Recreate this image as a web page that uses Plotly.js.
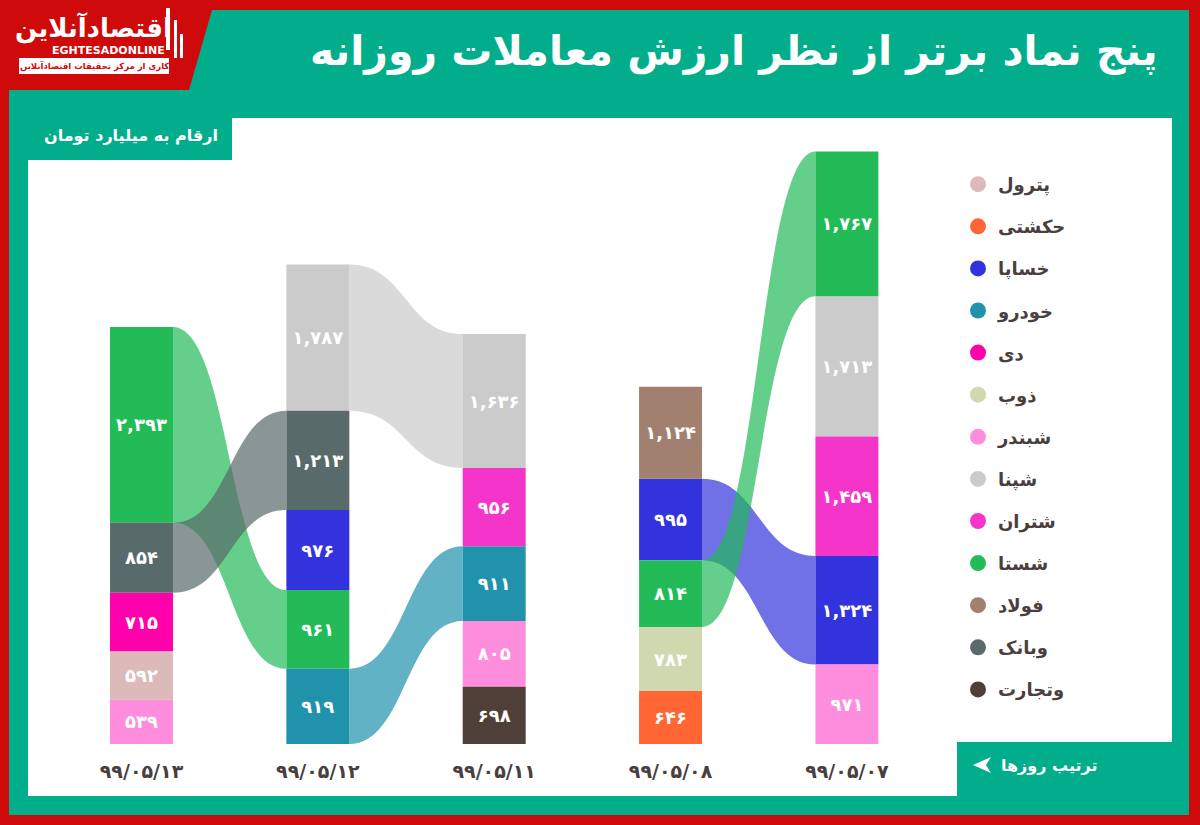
<!DOCTYPE html>
<html>
<head>
<meta charset="utf-8">
<script src="https://cdn.plot.ly/plotly-3.0.1.min.js"></script>
<style>
html,body{margin:0;padding:0;background:#cf0a0a;}
#chart{width:1200px;height:825px;}
</style>
</head>
<body>
<div id="chart"></div>
<script>
// ---------- DATA ----------
const dates = ['۹۹/۰۵/۱۳', '۹۹/۰۵/۱۲', '۹۹/۰۵/۱۱', '۹۹/۰۵/۰۸', '۹۹/۰۵/۰۷'];

const symbols = ['پترول', 'حکشتی', 'خساپا', 'خودرو', 'دی', 'ذوب', 'شبندر', 'شپنا', 'شتران', 'شستا', 'فولاد', 'وبانک', 'وتجارت'];
const symbolColors = ['#dbbab9', '#ff6633', '#3333dd', '#2092ac', '#ff00aa', '#cfd8ae', '#ff8ddd', '#cbcbcb', '#f535c9', '#22bb58', '#a28070', '#586a6a', '#4e3f38'];

// stacking order: bottom -> top
const day13Symbols = ['شبندر', 'پترول', 'دی', 'وبانک', 'شستا'];
const day13Values  = [539, 592, 715, 854, 2393];
const day12Symbols = ['خودرو', 'شستا', 'خساپا', 'وبانک', 'شپنا'];
const day12Values  = [919, 961, 976, 1213, 1787];
const day11Symbols = ['وتجارت', 'شبندر', 'خودرو', 'شتران', 'شپنا'];
const day11Values  = [698, 805, 911, 956, 1636];
const day08Symbols = ['حکشتی', 'ذوب', 'شستا', 'خساپا', 'فولاد'];
const day08Values  = [646, 783, 814, 995, 1124];
const day07Symbols = ['شبندر', 'خساپا', 'شتران', 'شپنا', 'شستا'];
const day07Values  = [971, 1324, 1459, 1713, 1767];

const titleText = 'پنج نماد برتر از نظر ارزش معاملات روزانه';
const unitText = 'ارقام به میلیارد تومان';
const orderText = 'ترتیب روزها';

// ---------- BUILD ----------
const columnSymbols = [day13Symbols, day12Symbols, day11Symbols, day08Symbols, day07Symbols];
const columnValues  = [day13Values, day12Values, day11Values, day08Values, day07Values];

const faDigits = '۰۱۲۳۴۵۶۷۸۹';
function toFa(n) {
  return n.toLocaleString('en-US').replace(/[0-9]/g, d => faDigits[+d]);
}
function colorOf(s) { return symbolColors[symbols.indexOf(s)]; }
function rgba(hex, a) {
  const r = parseInt(hex.slice(1,3),16), g = parseInt(hex.slice(3,5),16), b = parseInt(hex.slice(5,7),16);
  return `rgba(${r},${g},${b},${a})`;
}

// cumulative bases per column
const columnBases = columnValues.map(vals => {
  let acc = 0;
  return vals.map(v => { const b = acc; acc += v; return b; });
});

const FONT = 'DejaVu Sans';
const BAR_W = 0.357;
const traces = [];

symbols.forEach(sym => {
  const xs = [], ys = [], bs = [], ts = [];
  columnSymbols.forEach((col, ci) => {
    const k = col.indexOf(sym);
    if (k >= 0) {
      xs.push(ci); ys.push(columnValues[ci][k]); bs.push(columnBases[ci][k]); ts.push(toFa(columnValues[ci][k]));
    }
  });
  traces.push({
    type: 'bar', x: xs, y: ys, base: bs, text: ts, name: sym,
    width: BAR_W, showlegend: false,
    marker: {color: colorOf(sym), line: {width: 0}},
    textposition: 'inside', insidetextanchor: 'middle', textangle: 0,
    textfont: {family: FONT, size: 18, color: '#ffffff', weight: 'bold'},
    hoverinfo: 'skip'
  });
});

// legend entries
symbols.forEach(sym => {
  traces.push({
    type: 'scatter', mode: 'markers', x: [null], y: [null], name: sym,
    legendgroup: sym, showlegend: true,
    marker: {color: colorOf(sym), size: 16, symbol: 'circle'},
    hoverinfo: 'skip'
  });
});

// ---------- SHAPES ----------
const W = 1200, H = 825;
const px = x => x / W;
const py = y => 1 - y / H;
function ppath(points) {
  return 'M ' + points.map(p => px(p[0]) + ',' + py(p[1])).join(' L ') + ' Z';
}
const GREEN = '#02ad8b';
const shapes = [];
// green frame
shapes.push({type: 'path', xref: 'paper', yref: 'paper', layer: 'below', line: {width: 0}, fillcolor: GREEN,
  path: ppath([[9, 90], [189, 90], [212, 10], [1189, 10], [1189, 815], [9, 815]])});
// white panel
shapes.push({type: 'rect', xref: 'paper', yref: 'paper', layer: 'below', line: {width: 0}, fillcolor: '#ffffff',
  x0: px(28), x1: px(1172), y0: py(796), y1: py(118)});
// unit label box
shapes.push({type: 'rect', xref: 'paper', yref: 'paper', layer: 'below', line: {width: 0}, fillcolor: GREEN,
  x0: px(20), x1: px(232), y0: py(160), y1: py(110)});
// order box
shapes.push({type: 'rect', xref: 'paper', yref: 'paper', layer: 'below', line: {width: 0}, fillcolor: GREEN,
  x0: px(957), x1: px(1180), y0: py(800), y1: py(742)});
// arrow
shapes.push({type: 'path', xref: 'paper', yref: 'paper', layer: 'above', line: {width: 0}, fillcolor: '#ffffff',
  path: ppath([[973, 765], [991, 757], [986, 765], [991, 773]])});
// logo white box
shapes.push({type: 'rect', xref: 'paper', yref: 'paper', layer: 'above', line: {width: 0}, fillcolor: '#ffffff',
  x0: px(19), x1: px(169), y0: py(74), y1: py(58)});
// logo vertical bars
[[166, 8, 170, 50], [174, 20, 177, 58], [180, 34, 183, 58]].forEach(r => {
  shapes.push({type: 'rect', xref: 'paper', yref: 'paper', layer: 'above', line: {width: 0}, fillcolor: '#ffffff',
    x0: px(r[0]), x1: px(r[2]), y0: py(r[3]), y1: py(r[1])});
});

// ribbons between adjacent columns (data coordinates)
for (let i = 0; i < columnSymbols.length - 1; i++) {
  const left = columnSymbols[i], right = columnSymbols[i + 1];
  for (let k = left.length - 1; k >= 0; k--) {
    const sym = left[k];
    const j = right.indexOf(sym);
    if (j < 0) continue;
    const x0 = i + BAR_W / 2, x1 = i + 1 - BAR_W / 2, xm = (x0 + x1) / 2;
    const b0 = columnBases[i][k], t0 = b0 + columnValues[i][k];
    const b1 = columnBases[i + 1][j], t1 = b1 + columnValues[i + 1][j];
    shapes.push({
      type: 'path', xref: 'x', yref: 'y', layer: 'below', line: {width: 0},
      fillcolor: rgba(colorOf(sym), 0.7),
      path: `M ${x0},${t0} C ${xm},${t0} ${xm},${t1} ${x1},${t1} L ${x1},${b1} C ${xm},${b1} ${xm},${b0} ${x0},${b0} Z`
    });
  }
}

// ---------- ANNOTATIONS ----------
const annotations = [
  {text: titleText, xref: 'paper', yref: 'paper', x: px(1160), y: py(52), xanchor: 'right', yanchor: 'middle',
   showarrow: false, font: {family: FONT, size: 41, color: '#ffffff', weight: 'bold'}},
  {text: unitText, xref: 'paper', yref: 'paper', x: px(131), y: py(136), xanchor: 'center', yanchor: 'middle',
   showarrow: false, font: {family: FONT, size: 16, color: '#ffffff', weight: 'bold'}},
  {text: orderText, xref: 'paper', yref: 'paper', x: px(1099), y: py(765), xanchor: 'right', yanchor: 'middle',
   showarrow: false, font: {family: FONT, size: 16, color: '#ffffff', weight: 'bold'}},
  {text: 'اقتصادآنلاین', xref: 'paper', yref: 'paper', x: px(93), y: py(28), xanchor: 'center', yanchor: 'middle',
   showarrow: false, font: {family: FONT, size: 26, color: '#ffffff', weight: 'bold'}},
  {text: 'EGHTESADONLINE', xref: 'paper', yref: 'paper', x: px(108), y: py(51), xanchor: 'center', yanchor: 'middle',
   showarrow: false, font: {family: FONT, size: 11, color: '#ffffff', weight: 'bold'}},
  {text: 'کاری از مرکز تحقیقات اقتصادآنلاین', xref: 'paper', yref: 'paper', x: px(94), y: py(66), xanchor: 'center', yanchor: 'middle',
   showarrow: false, font: {family: FONT, size: 8.5, color: '#cf0a0a', weight: 'bold'}}
];

// ---------- LAYOUT ----------
const baselinePx = 744, pxPerUnit = 0.0819;
const colPx0 = 141.5, colStep = 176.35;
const layout = {
  width: W, height: H,
  margin: {l: 0, r: 0, t: 0, b: 0, pad: 0},
  paper_bgcolor: '#cf0a0a', plot_bgcolor: 'rgba(0,0,0,0)',
  barmode: 'overlay',
  showlegend: true,
  hovermode: false,
  xaxis: {
    range: [-colPx0 / colStep, (W - colPx0) / colStep],
    tickvals: dates.map((d, i) => i), ticktext: dates,
    tickfont: {family: FONT, size: 19, color: '#4a3f3f', weight: 'bold'},
    showgrid: false, zeroline: false, showline: false,
    ticks: 'outside', ticklen: 10, tickcolor: 'rgba(0,0,0,0)',
    anchor: 'free', position: (H - baselinePx) / H, fixedrange: true
  },
  yaxis: {
    range: [-(H - baselinePx) / pxPerUnit, baselinePx / pxPerUnit],
    visible: false, showgrid: false, zeroline: false, fixedrange: true
  },
  legend: {
    x: px(958), xanchor: 'left', y: py(166), yanchor: 'top',
    bgcolor: 'rgba(0,0,0,0)', borderwidth: 0,
    font: {family: FONT, size: 18, color: '#4a3f3f', weight: 'bold'},
    tracegroupgap: 15.7, itemclick: false, itemdoubleclick: false
  },
  shapes: shapes,
  annotations: annotations
};

Plotly.newPlot('chart', traces, layout, {displayModeBar: false, staticPlot: true});
</script>
</body>
</html>
